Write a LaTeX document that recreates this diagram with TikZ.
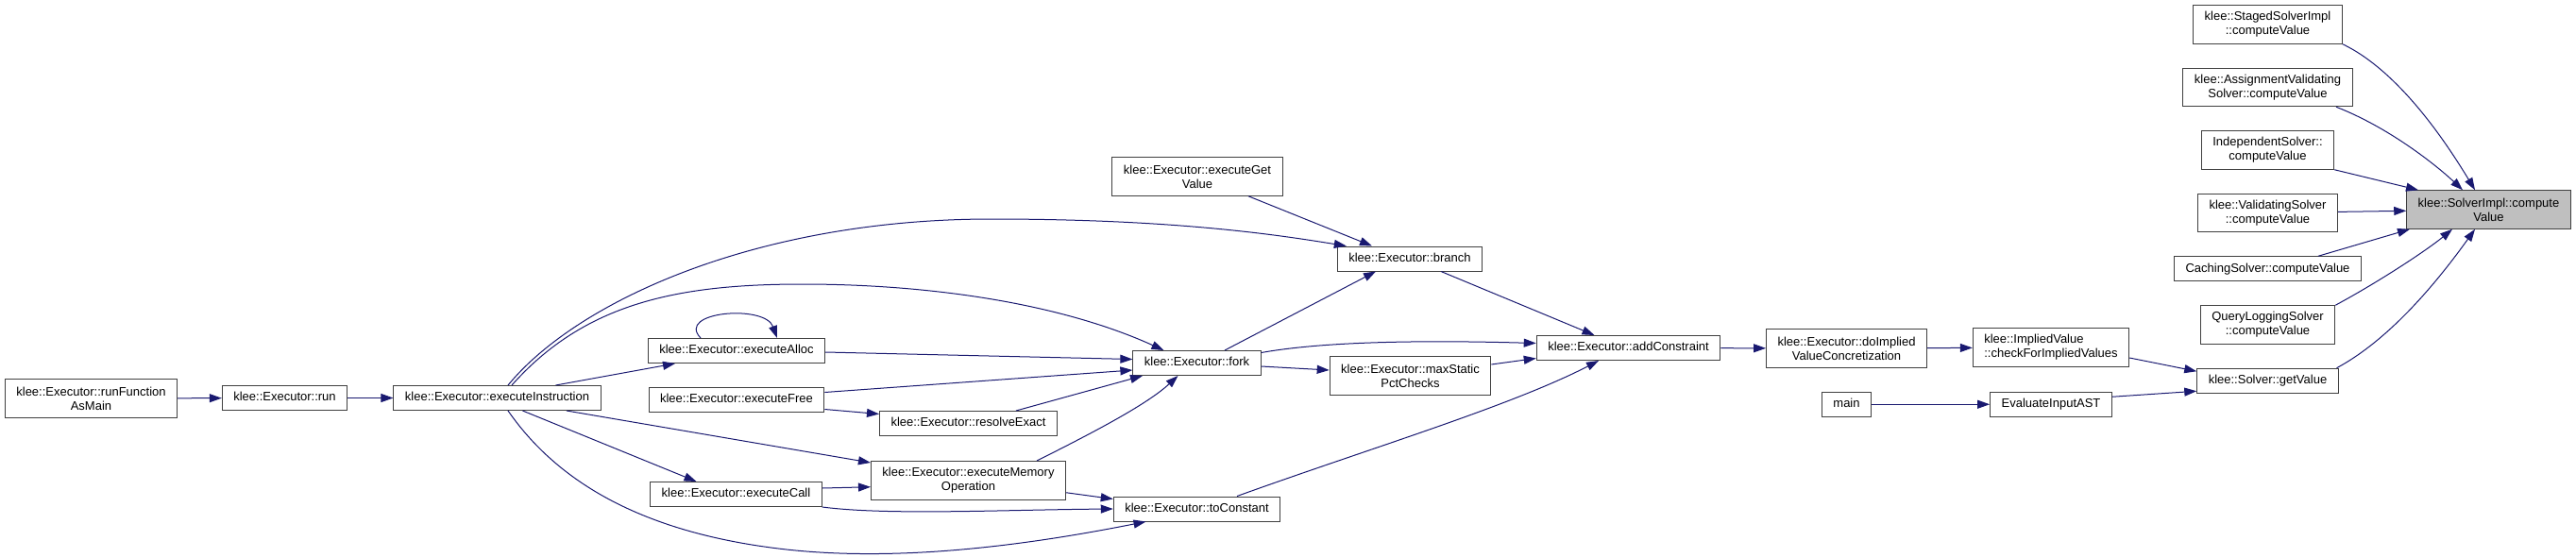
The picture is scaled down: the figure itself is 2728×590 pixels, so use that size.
\documentclass[tikz,border=0pt]{standalone}
\usepackage{fontspec}
\setmainfont{Liberation Sans}
\usetikzlibrary{arrows.meta, positioning}

\definecolor{edgeblue}{RGB}{25,25,112}
\definecolor{boxline}{RGB}{64,64,64}

\begin{document}
\begin{tikzpicture}[
    x=1pt, y=-1pt,
    node distance=25pt,
    fn/.style={rectangle, draw=boxline, line width=1pt, inner xsep=12pt, inner ysep=0pt, minimum height=26pt, text height=9.5pt, text depth=2.7pt, font=\fontsize{13}{15}\selectfont},
    fntwo/.style={rectangle, draw=boxline, line width=1pt, inner xsep=12pt, inner ysep=0pt, minimum height=40.5pt, align=center, font=\fontsize{13}{15}\selectfont},
    focus/.style={fill=black!25},
    call/.style={-{Triangle[length=13pt, width=9pt]}, draw=edgeblue, line width=1pt}
]
\useasboundingbox (0,0) rectangle (2728,590);

% Nodes
\node[fntwo] (rfam) at (96.5,422) {klee::Executor::runFunction\\AsMain};
\node[fn] (run) at (301.5,421.5) {klee::Executor::run};
\node[fn] (einst) at (526.5,421.5) {klee::Executor::executeInstruction};
\node[fn] (ealloc) at (780,371.5) {klee::Executor::executeAlloc};
\node[fn, below=of ealloc] (efree) {klee::Executor::executeFree};
\node[fn] (ecall) at (779.5,523.5) {klee::Executor::executeCall};
\node[fn] (rexact) at (1025.5,448.5) {klee::Executor::resolveExact};
\node[fntwo, below=26pt of rexact] (ememop) {klee::Executor::executeMemory\\Operation};
\node[fntwo] (egetval) at (1268,187) {klee::Executor::executeGet\\Value};
\node[fn] (fork) at (1267.5,384.5) {klee::Executor::fork};
\node[fn] (tocon) at (1267.5,539) {klee::Executor::toConstant};
\node[fn] (branch) at (1493,274) {klee::Executor::branch};
\node[fntwo] (maxsp) at (1493.5,398) {klee::Executor::maxStatic\\PctChecks};
\node[fn] (addc) at (1724.5,368.5) {klee::Executor::addConstraint};
\node[fntwo] (doimpl) at (1955.5,369) {klee::Executor::doImplied\\ValueConcretization};
\node[fn, below=of doimpl] (main) {main};
\node[fntwo, align=left] (chkimpl) at (2172,368) {klee::ImpliedValue\\::checkForImpliedValues};
\node[fn, below=26pt of chkimpl] (evalast) {EvaluateInputAST};

% Solver column
\node[fntwo] (staged) at (2401.5,26) {klee::StagedSolverImpl\\::computeValue};
\node[fntwo, below=of staged] (assign) {klee::AssignmentValidating\\Solver::computeValue};
\node[fntwo, below=of assign] (indep) {IndependentSolver::\\computeValue};
\node[fntwo, below=of indep] (valid) {klee::ValidatingSolver\\::computeValue};
\node[fn, below=of valid] (caching) {CachingSolver::computeValue};
\node[fntwo, below=of caching] (qlog) {QueryLoggingSolver\\::computeValue};
\node[fn, below=of qlog] (getval) {klee::Solver::getValue};
\node[fntwo, focus] (simpl) at (2635.5,222) {klee::SolverImpl::compute\\Value};

% Arrows
\draw[call] (rfam) -- (run);
\draw[call] (run) -- (einst);
\draw[call] ([xshift=11.5pt]einst.north) .. controls (610,320) and (800,232) .. (1050,232) .. controls (1250,232) and (1360,250) .. ([xshift=10pt]branch.north west);
\draw[call] ([xshift=15.5pt]einst.north) .. controls (620,320) and (720,301) .. (850,301) .. controls (980,301) and (1120,320) .. ([xshift=-35pt]fork.north);
\draw[call] ([xshift=62pt]einst.north) -- ([xshift=-65pt]ealloc.south);
\draw[call] ([xshift=73.5pt]einst.south) -- ([yshift=-2pt]ememop.north west);
\draw[call] ([xshift=27pt]einst.south) -- ([xshift=-42pt]ecall.north);
\draw[call] ([xshift=11.5pt]einst.south) .. controls (590,510) and (680,565) .. (833,582) .. controls (960,596) and (1100,575) .. ([xshift=-54pt]tocon.south);
\draw[call] ([xshift=-38pt]ealloc.north) .. controls (715,330) and (810,322) .. ([xshift=43pt]ealloc.north);
\draw[call] ([yshift=-1.5pt]ealloc.east) -- ([yshift=4pt]fork.west);
\draw[call] ([yshift=8pt]efree.east) -- ([yshift=-7.5pt]fork.west);
\draw[call] ([yshift=-10pt]efree.east) -- ([yshift=10pt]rexact.west);
\draw[call] ([xshift=50.5pt]rexact.north) -- ([xshift=-57.5pt]fork.south);
\draw[call] ([xshift=72.5pt]ememop.north) .. controls (1160,457) and (1215,428) .. ([xshift=-20pt]fork.south);
\draw[call] ([yshift=-13pt]ememop.east) -- ([yshift=-3pt]tocon.north west);
\draw[call] ([yshift=6.5pt]ecall.east) -- ([yshift=-7pt]ememop.west);
\draw[call] (ecall.south east) .. controls (940,546) and (1060,540) .. (tocon.west);
\draw[call] ([xshift=42.5pt]tocon.north) .. controls (1450,475) and (1600,430) .. ([xshift=-31.5pt]addc.south);
\draw[call] ([xshift=54pt]egetval.south) -- ([xshift=-40pt]branch.north);
\draw[call] ([xshift=29.5pt]fork.north) -- ([xshift=-36pt]branch.south);
\draw[call] ([yshift=11pt]fork.east) .. controls (1400,362) and (1500,360) .. ([yshift=5pt]addc.west);
\draw[call] ([yshift=-3.5pt]fork.east) -- ([yshift=6pt]maxsp.west);
\draw[call] ([yshift=12pt]maxsp.east) -- ([yshift=-11pt]addc.west);
\draw[call] ([xshift=33pt]branch.south) -- ([xshift=-36pt]addc.north);
\draw[call] (addc) -- (doimpl);
\draw[call] (doimpl) -- (chkimpl);
\draw[call] (main) -- (evalast);
\draw[call] ([yshift=-11pt]chkimpl.east) -- ([yshift=10pt]getval.west);
\draw[call] ([yshift=8pt]evalast.east) -- ([yshift=-11pt]getval.west);

% Into the focus node
\draw[call] ([xshift=73pt]getval.north) .. controls (2530,360) and (2580,300) .. ([xshift=-14.5pt]simpl.south);
\draw[call] (staged.south east) .. controls (2540,75) and (2590,150) .. ([xshift=-14.5pt]simpl.north);
\draw[call] ([xshift=72.5pt]assign.south) .. controls (2530,135) and (2580,175) .. ([xshift=-27.5pt]simpl.north);
\draw[call] (indep.south east) -- ([xshift=-74.5pt]simpl.north);
\draw[call] (valid) -- (simpl);
\draw[call] ([xshift=53.5pt]caching.north) -- ([xshift=-83.5pt]simpl.south);
\draw[call] (qlog.north east) .. controls (2520,298) and (2570,265) .. ([xshift=-38.5pt]simpl.south);

\end{tikzpicture}
\end{document}
